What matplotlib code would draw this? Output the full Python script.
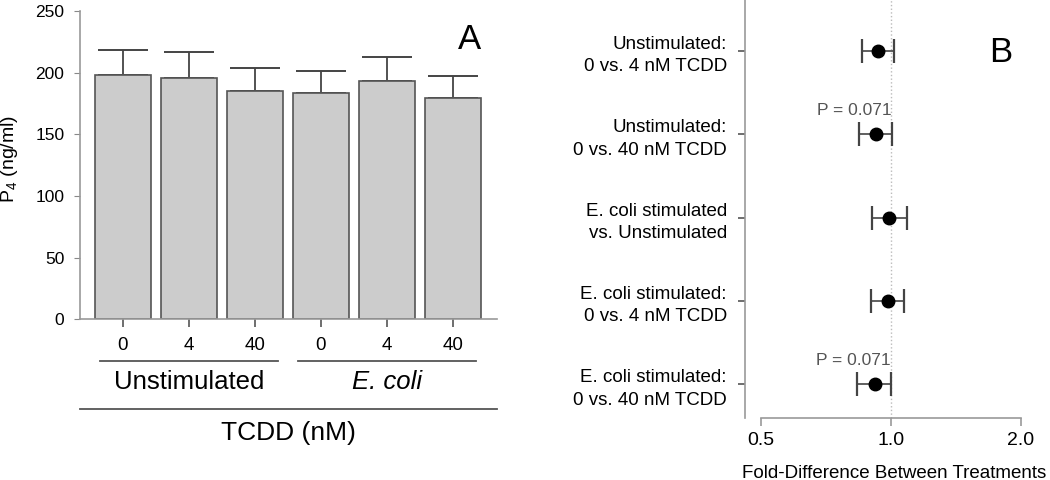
import matplotlib
matplotlib.use('Agg')
import matplotlib.pyplot as plt
from matplotlib.ticker import NullLocator
import numpy as np

plt.rcParams['font.family'] = ['Liberation Sans', 'DejaVu Sans']
plt.rcParams['mathtext.fontset'] = 'custom'
plt.rcParams['mathtext.rm'] = 'Liberation Sans'

# panel A data
doses = ['0', '4', '40', '0', '4', '40']
groups = ['Unstimulated', 'E. coli']
group_style = ['normal', 'italic']
p4_mean = [198, 196, 185, 183.3, 193, 179.5]
p4_sem = [20, 20.4, 18.7, 18.3, 19.7, 18.1]

# panel B data
comparisons = ['Unstimulated:\n0 vs. 4 nM TCDD',
               'Unstimulated:\n0 vs. 40 nM TCDD',
               'E. coli stimulated\nvs. Unstimulated',
               'E. coli stimulated:\n0 vs. 4 nM TCDD',
               'E. coli stimulated:\n0 vs. 40 nM TCDD']
fold = [0.931, 0.922, 0.991, 0.986, 0.917]
ci_low = [0.855, 0.845, 0.905, 0.899, 0.836]
ci_high = [1.018, 1.004, 1.087, 1.073, 1.0]
p_text = [None, 'P = 0.071', None, None, 'P = 0.071']

fig = plt.figure(figsize=(10.5, 4.8), dpi=100)

# ---- panel A ----
axA = fig.add_axes([80 / 1050, 1 - 319.3 / 480, 417 / 1050, 308.3 / 480])
x = np.arange(len(p4_mean))
eb = axA.errorbar(x, p4_mean, yerr=[np.zeros(len(p4_sem)), p4_sem], fmt='none',
                  ecolor='#444444', elinewidth=1.3, capsize=18, capthick=1.4,
                  zorder=1)
for cap in eb[1]:
    cap.set_color('#888888')
axA.bar(x, p4_mean, width=0.844, color='#cccccc', edgecolor='#555555',
        linewidth=1.2, zorder=2)
axA.set_xlim(-0.649, 5.669)
axA.set_ylim(0, 250)
axA.set_yticks([0, 50, 100, 150, 200, 250])
axA.set_xticks(x)
axA.set_xticklabels(doses, fontsize=13.5)
axA.tick_params(axis='y', labelsize=12.5, length=4.3, pad=7, color='#888888')
axA.tick_params(axis='x', length=5.4, pad=7, color='#555555', width=1.2)
for s in ['top', 'right']:
    axA.spines[s].set_visible(False)
for s in ['left', 'bottom']:
    axA.spines[s].set_color('#999999')
    axA.spines[s].set_linewidth(1.2)

trA = axA.get_xaxis_transform()
for g, name in enumerate(groups):
    lo, hi = 3 * g - 0.346, 3 * g + 2.355
    axA.plot([lo, hi], [-0.135, -0.135], color='#555555', lw=1.3,
             transform=trA, clip_on=False)
    axA.text((lo + hi) / 2, -0.202, name, transform=trA, ha='center',
             va='center', fontsize=18.5, style=group_style[g])
axA.plot([0, 1], [-0.292, -0.292], color='#555555', lw=1.3,
         transform=axA.transAxes, clip_on=False)
axA.text(0.5, -0.37, 'TCDD (nM)', transform=axA.transAxes, ha='center',
         va='center', fontsize=19)
fig.text(10 / 1050, 1 - 159 / 480, r'P$_\mathregular{4}$ (ng/ml)', rotation=90,
         ha='center', va='center', fontsize=14)
fig.text(470 / 1050, 1 - 39.3 / 480, 'A', ha='center', va='center', fontsize=25)

# ---- panel B ----
axB = fig.add_axes([745 / 1050, 1 - 418 / 480, 305 / 1050, 418 / 480])
rows = np.arange(len(fold))
fold_arr = np.array(fold)
xerr = [fold_arr - np.array(ci_low), np.array(ci_high) - fold_arr]
axB.axvline(1.0, color='#bbbbbb', lw=1, ls=':', zorder=0)
ebB = axB.errorbar(fold, rows, xerr=xerr, fmt='none', ecolor='#444444',
                   elinewidth=1.2, capsize=8.3, capthick=1.6, zorder=2)
for cap in ebB[1]:
    cap.set_color('#888888')
axB.plot(fold, rows, 'o', color='black', markersize=9, zorder=3)
for r, t in enumerate(p_text):
    if t:
        axB.annotate(t, xy=(ci_high[r], r), xytext=(0, 17),
                     textcoords='offset points', ha='right', va='center',
                     fontsize=12.5, color='#555555')

axB.set_xscale('log', base=2)
axB.set_xlim(0.459, 2.335)
axB.set_ylim(4.406, -0.612)
axB.set_xticks([0.5, 1.0, 2.0])
axB.set_xticklabels(['0.5', '1.0', '2.0'])
axB.xaxis.set_minor_locator(NullLocator())
axB.set_yticks(rows)
axB.set_yticklabels(comparisons, fontsize=13.5, linespacing=1.42, ha='right')
axB.tick_params(axis='x', labelsize=14, length=5.5, pad=4.8, color='#999999',
                width=1.2)
axB.tick_params(axis='y', length=5, pad=8, color='#555555', width=1.2)
for s in ['top', 'right']:
    axB.spines[s].set_visible(False)
for s in ['left', 'bottom']:
    axB.spines[s].set_color('#999999')
    axB.spines[s].set_linewidth(1.2)
axB.spines['bottom'].set_bounds(0.5, 2.0)
fig.text(894 / 1050, 2 / 480, 'Fold-Difference Between Treatments', ha='center',
         va='baseline', fontsize=13.5)
fig.text(1001 / 1050, 1 - 52 / 480, 'B', ha='center', va='center', fontsize=25)

fig.savefig('out.png', dpi=100)
